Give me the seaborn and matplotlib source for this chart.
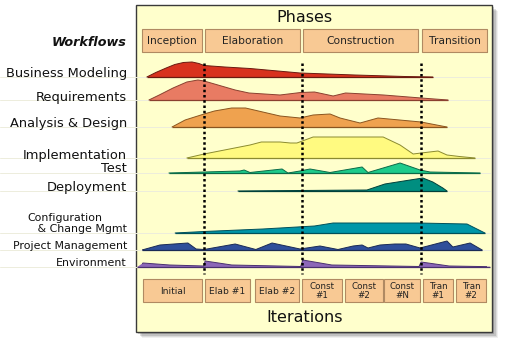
import numpy as np
import pandas as pd
import matplotlib
matplotlib.use("Agg")
import matplotlib.pyplot as plt
from matplotlib.patches import Rectangle
import seaborn as sns

sns.set_theme(style="white")
plt.rcParams['font.family'] = ['DejaVu Sans']

# ---------------- data ----------------
phases = ["Inception", "Elaboration", "Construction", "Transition"]
iterations = ["Initial", "Elab #1", "Elab #2", "Const\n#1", "Const\n#2",
              "Const\n#N", "Tran\n#1", "Tran\n#2"]
milestones = [18.0, 46.4, 80.9]          # % of project timeline

workflows = ["Business Modeling", "Requirements", "Analysis & Design",
             "Implementation", "Test", "Deployment",
             "Configuration\n   & Change Mgmt", "Project Management", "Environment"]

# effort profiles: t = % of project timeline, e = effort level
bm_t = [1.4, 4, 7, 9.5, 12, 14.5, 16.5, 18, 24, 31.3, 45.8, 61.7, 76.2, 84.3]
bm_e = [0, 4.5, 9, 12.5, 14.5, 15, 13.5, 11.5, 10, 8.5, 4, 2, 0.5, 0]

req_t = [2.0, 5, 9, 13, 16.2, 18, 22, 27, 31, 40, 46, 50, 55.4, 59, 70, 80.9, 88.7]
req_e = [0, 5, 12, 18, 20, 19, 15, 10, 7, 5, 7.5, 8, 4, 7, 5, 2, 0]

ad_t = [8.7, 12.5, 18, 21, 26, 30, 35, 40, 45.8, 49.6, 54.5, 57.4, 63.2, 68.4, 80.9, 88.4]
ad_e = [0, 7, 13, 16, 19, 19, 15, 11, 9, 12, 13, 9, 4, 9, 5, 0]

impl_t = [13.0, 18, 31.3, 34.6, 40, 43, 44.9, 49.6, 69.9, 74.8, 78.6, 80.9, 85.8, 88.4, 92, 96.5]
impl_e = [0, 4, 13, 16, 16, 15, 15, 21, 21, 13, 4, 5, 7, 3, 1.5, 0]

test_t = [7.8, 18, 28.4, 29.6, 31.3, 40.6, 42.3, 45.8, 48.7, 54.5, 63.8, 65.5, 74.8, 80.6, 83.5, 98]
test_e = [0, 1, 2, 3, 0.5, 4, 0, 2, 4, 0.5, 6, 0.5, 10, 3, 1, 0]

dep_t = [27.8, 45.8, 65.2, 70.4, 77.7, 81.4, 84.3, 87.2, 88.4]
dep_e = [0, 0.5, 1, 7, 11, 13, 9, 3, 0]

cm_t = [9.6, 18, 35, 50, 55.4, 80, 94.2, 96.5, 99.4]
cm_e = [0, 1.5, 4, 7, 10, 10, 9, 5, 0]

pm_t = [0, 5.2, 13.3, 15.7, 18, 27, 33, 37.7, 45.8, 51.6, 56.8, 61.2, 63.8, 65.5,
        69, 73.3, 76.5, 80.6, 88.4, 90.1, 95.1, 98.6]
pm_e = [0, 5, 7, 1, 0.5, 6, 0.5, 7, 1, 4, 0.5, 4, 5, 2, 5, 6, 6, 2, 9, 3, 7, 0]

env_t = [-1.4, 0.3, 8, 17.9, 18.3, 26, 46.0, 46.6, 55, 80.3, 80.9, 89, 100.9]
env_e = [0, 4, 2, 1, 6, 2, 0.5, 7, 2, 0.5, 5, 1, 0.3]

profiles_t = [bm_t, req_t, ad_t, impl_t, test_t, dep_t, cm_t, pm_t, env_t]
profiles_e = [bm_e, req_e, ad_e, impl_e, test_e, dep_e, cm_e, pm_e, env_e]

# ---------------- styling / layout ----------------
fills = ["#D8321E", "#E87B63", "#EFA24F", "#FFFA80", "#1DCB8B",
         "#008E80", "#0096A8", "#2F4F9A", "#8C67B7"]
edges = ["#6A1A10", "#8A4030", "#8A5520", "#8A8A30", "#0B6A48",
         "#00403A", "#00505A", "#1A2A55", "#4A3070"]
row_base = [77, 100, 127, 158, 173, 191, 233, 250, 267]
label_y = [73, 97, 123, 155, 168, 187, 223.5, 246, 263]
label_fs = [9.4, 9.4, 9.4, 9.4, 9.4, 9.4, 7.9, 7.9, 7.9]
phase_spans = [(142, 202), (205, 300), (303, 418), (422, 487)]
iter_spans = [(143, 202), (205, 250), (255, 299), (302, 342), (345, 383),
              (384, 420), (423, 453), (456, 486)]

W, H = 512, 341
fig = plt.figure(figsize=(W / 100, H / 100), dpi=100)
fig.patch.set_facecolor("white")

lay = fig.add_axes([0, 0, 1, 1])
lay.set_xlim(0, W)
lay.set_ylim(H, 0)
lay.axis("off")

# panel shadow
for i, a in enumerate([0.10, 0.14, 0.2, 0.28]):
    off = 6 - i * 1.2
    lay.add_patch(Rectangle((136 + off, 5 + off), 356, 327, facecolor="black",
                            alpha=a * 0.6, edgecolor="none", zorder=1))
# panel
lay.add_patch(Rectangle((136, 5), 356, 327, facecolor="#FFFFCC",
                        edgecolor="#3A3A3A", lw=1.0, zorder=2))

# faint guide lines at baselines
for yb in row_base:
    lay.plot([0, 490], [yb, yb], color="#EDEDDC", lw=0.7, zorder=2.5)


def box(x0, x1, y0, y1, label, fs):
    lay.add_patch(Rectangle((x0 + 1, y0 + 1), x1 - x0, y1 - y0,
                            facecolor="#A88058", edgecolor="none", zorder=3))
    lay.add_patch(Rectangle((x0, y0), x1 - x0, y1 - y0, facecolor="#F8C994",
                            edgecolor="#B08A62", lw=0.8, zorder=4))
    lay.text((x0 + x1) / 2, (y0 + y1) / 2 + 0.5, label, ha="center", va="center",
             fontsize=fs, color="#222222", zorder=5, linespacing=1.0)


for (x0, x1), name in zip(phase_spans, phases):
    box(x0, x1, 29, 52, name, 7.7)
for (x0, x1), name in zip(iter_spans, iterations):
    box(x0, x1, 279, 302, name, 6.6 if "\n" not in name else 6.3)

lay.text(304, 18, "Phases", ha="center", va="center", fontsize=11.5,
         color="#111111", zorder=5)
lay.text(305, 317, "Iterations", ha="center", va="center", fontsize=11.5,
         color="#111111", zorder=5)
lay.text(127, 42, "Workflows", ha="right", va="center", fontsize=9.2,
         fontweight="bold", fontstyle="italic", color="#111111")

for name, yl, fs in zip(workflows, label_y, label_fs):
    lay.text(127, yl, name, ha="right", va="center", fontsize=fs,
             color="#111111", linespacing=1.15,
             multialignment="left" if "\n" in name else "right")

# ---------------- humps ----------------
ax = fig.add_axes([142 / W, 0, 345 / W, 1])
ax.set_xlim(0, 100)
ax.set_ylim(H, 0)
ax.patch.set_alpha(0)
ax.axis("off")

for t, e, yb, fc, ec in zip(profiles_t, profiles_e, row_base, fills, edges):
    t = np.asarray(t, float)
    e = np.asarray(e, float)
    top = yb - e
    ax.fill_between(t, yb, top, facecolor=fc, edgecolor="none", zorder=3,
                    clip_on=False)
    df = pd.DataFrame({"t": t, "y": top})
    sns.lineplot(data=df, x="t", y="y", ax=ax, color=ec, lw=0.7,
                 estimator=None, sort=False, zorder=4, legend=False)
    ax.plot([t[0], t[-1]], [yb, yb], color=ec, lw=0.9, zorder=4,
            solid_capstyle="butt", clip_on=False)

ax.vlines(milestones, 63, 274, colors="black", lw=1.8,
          linestyles=(0, (1, 1.1)), zorder=6)
ax.set_xlim(0, 100)
ax.set_ylim(H, 0)
ax.axis("off")

fig.savefig("out.png", dpi=100)
